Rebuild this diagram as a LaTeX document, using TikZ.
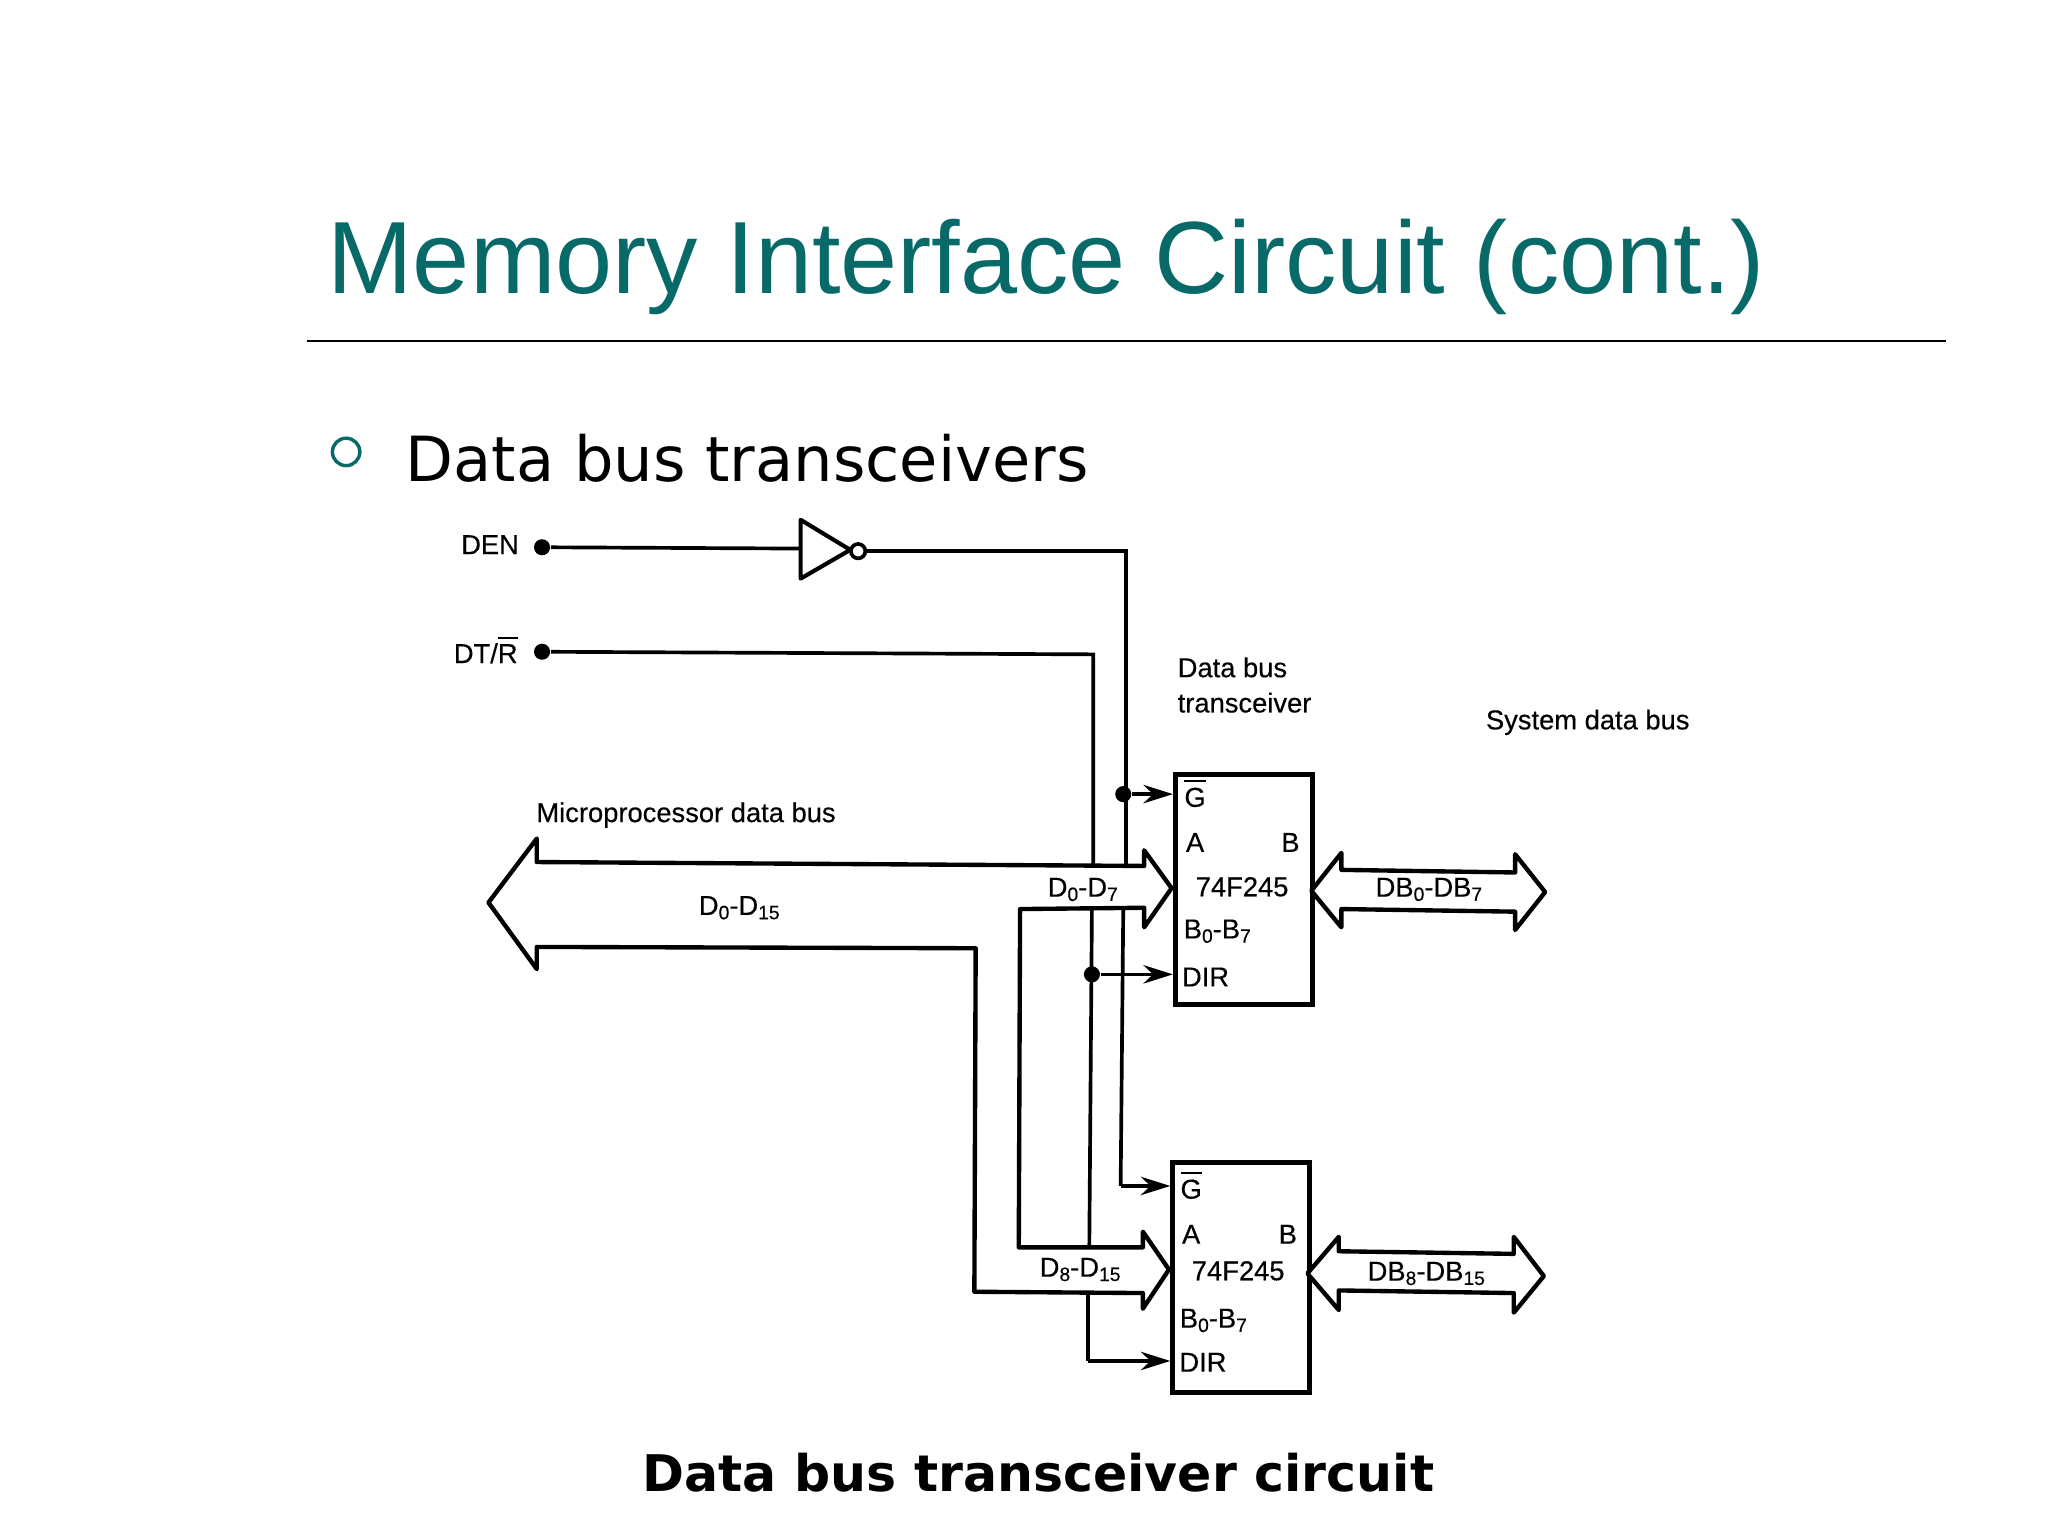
\documentclass[tikz,border=0pt]{standalone}
\usepackage{fontspec}
\setmainfont{Liberation Sans}
\newfontfamily\vera{DejaVu Sans}
\newfontfamily\scan[FakeBold=0.35]{Liberation Sans}
\usetikzlibrary{arrows.meta}
\definecolor{teal1}{RGB}{8,106,104}
\newcommand{\sbs}[1]{\raisebox{-0.3ex}{\fontsize{4.2}{4.2}\selectfont #1}}
\newcommand{\ovl}[1]{$\overline{\hbox{#1}}$}
\tikzset{
 wire/.style={line width=0.8pt,line join=miter},
 sig/.style={wire,-{Stealth[length=6.4pt,width=4pt]}},
 bus/.style={line width=0.95pt,line join=round,fill=white},
 dot/.style={circle,fill=black,inner sep=0pt,minimum size=3.5pt},
 box/.style={draw,line width=1.1pt,rectangle,minimum width=105*0.01cm,minimum height=176*0.01cm,inner sep=0pt},
 lab/.style={font=\scan\fontsize{5.95}{7}\selectfont,inner sep=0pt},
}
\begin{document}
\begin{tikzpicture}[x=0.01cm,y=-0.01cm]
\useasboundingbox (0,0) rectangle (1568,1176);
% slide furniture
\node[anchor=base west,inner sep=0pt,text=teal1,font=\fontsize{22.35}{26}\selectfont] (title) at (250,225) {Memory Interface Circuit (cont.)};
\coordinate (ruleL) at (235,261); \coordinate (ruleR) at (1490,261);
\draw[line width=0.55pt] (ruleL) -- (ruleR);
\node[circle,draw=teal1,line width=0.75pt,minimum size=21*0.01cm,inner sep=0pt] (bullet) at (265,346) {};
\node[anchor=base west,inner sep=0pt,font=\vera\fontsize{13.56}{16}\selectfont] (head) at (310,369) {Data bus transceivers};
\node[anchor=base,inner sep=0pt,font=\vera\bfseries\fontsize{11}{14}\selectfont] (cap) at (795,1142) {Data bus transceiver circuit};
% boxes
\node[box,anchor=north west] (U1) at (898,591) {};
\node[box,anchor=north west] (U2) at (896,888) {};
% buses
\coordinate (mTop) at (411,660); \coordinate (mBot) at (411,725);
\coordinate (aTop) at (876,663); \coordinate (aBot) at (876,695);
\coordinate (bTop) at (875,955); \coordinate (bBot) at (875,990);
\coordinate (mTurn) at (747,726); \coordinate (mTurn2) at (746,989);
\coordinate (aTurn) at (781,696); \coordinate (bTurn) at (780,955);
\draw[bus] (aBot) -- (876,710) -- (897,680) -- (876,651) -- (aTop) -- (mTop) -- (411,642) -- (374,691) -- (411,742) -- (mBot) -- (mTurn) -- (mTurn2) -- (bBot) -- (875,1002) -- (895,972) -- (875,943) -- (bTop) -- (bTurn) -- (aTurn) -- cycle;
\draw[bus] (1004,682) -- (1027,653) -- (1027,666) -- (1160,668) -- (1160,654) -- (1183,683) -- (1160,712) -- (1160,698) -- (1027,696) -- (1027,710) -- cycle;
\draw[bus] (1001,975) -- (1025,947) -- (1025,958) -- (1159,960) -- (1159,947) -- (1182,977) -- (1159,1005) -- (1159,990) -- (1025,988) -- (1025,1003) -- cycle;
% inverter
\coordinate (invA) at (613,398); \coordinate (invB) at (613,443); \coordinate (invC) at (651,421);
\coordinate (invIn) at (613,420);
\draw[line width=0.9pt,line join=round] (invA) -- (invC) -- (invB) -- cycle;
\node[circle,draw,line width=0.8pt,fill=white,inner sep=0pt,minimum size=11*0.01cm] (bub) at (657,422) {};
% terminals and junctions
\node[dot] (den) at (415,419) {};
\node[dot] (dtr) at (415,499) {};
\node[dot] (jG) at (860,608) {};
\node[dot] (jD) at (836,746) {};
\coordinate (c1) at (862,422); \coordinate (c1b) at (862,662);
\coordinate (c1c) at (860,696); \coordinate (c1d) at (858,908);
\coordinate (c2) at (837,501); \coordinate (c2b) at (837,662);
\coordinate (c2c) at (836,696); \coordinate (c2d) at (834,955);
\coordinate (c2e) at (833,990); \coordinate (c2f) at (833,1042);
\draw[wire] (den) -- (invIn);
\draw[wire] (bub) -- (c1) -- (c1b);
\draw[wire] (c1c) -- (c1d);
\draw[wire] (dtr) -- (c2) -- (c2b);
\draw[wire] (c2c) -- (c2d);
\draw[wire] (c2e) -- (c2f);
\draw[sig] (jG) -- (U1.west |- jG);
\draw[sig] (jD) -- (U1.west |- jD);
\draw[sig] (c1d) -- (U2.west |- c1d);
\draw[sig] (c2f) -- (U2.west |- c2f);
% labels
\node[lab,anchor=east] (tDEN) at (398,417) {DEN};
\node[lab,anchor=east] (tDTR) at (397,497) {DT/\ovl{R}};
\node[lab,anchor=west] (tMic) at (410,624) {Microprocessor data bus};
\node[lab,anchor=west] (tDB1) at (901,511) {Data bus};
\node[lab,anchor=west] (tDB2) at (901,538) {transceiver};
\node[lab,anchor=west] (tSys) at (1137,553) {System data bus};
\node[lab] (tD015) at (566,695) {D\sbs{0}-D\sbs{15}};
\node[lab] (tD07) at (829,681) {D\sbs{0}-D\sbs{7}};
\node[lab] (tD815) at (827,972) {D\sbs{8}-D\sbs{15}};
\node[lab] (tDB07) at (1094,681) {DB\sbs{0}-DB\sbs{7}};
\node[lab] (tDB815) at (1092,975) {DB\sbs{8}-DB\sbs{15}};
\node[lab] (g1) at (915,607) {\ovl{G}};
\node[lab] (a1) at (915,645) {A};
\node[lab] (b1) at (988,645) {B};
\node[lab] (n1) at (951,679) {74F245};
\node[lab] (bb1) at (932,713) {B\sbs{0}-B\sbs{7}};
\node[lab] (d1) at (923,748) {DIR};
\node[lab] (g2) at (912,907) {\ovl{G}};
\node[lab] (a2) at (912,945) {A};
\node[lab] (b2) at (986,945) {B};
\node[lab] (n2) at (948,973) {74F245};
\node[lab] (bb2) at (929,1011) {B\sbs{0}-B\sbs{7}};
\node[lab] (d2) at (921,1043) {DIR};
\end{tikzpicture}
\end{document}
